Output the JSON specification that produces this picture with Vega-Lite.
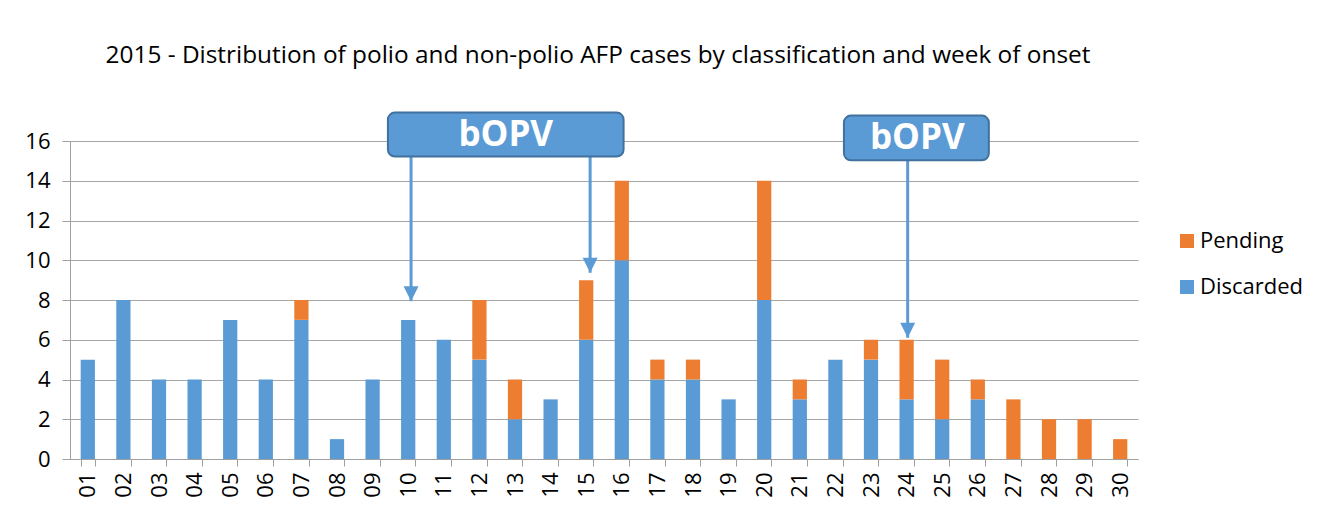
{
  "$schema": "https://vega.github.io/schema/vega-lite/v6.json",
  "width": 1068,
  "height": 318,
  "autosize": {"type": "none"},
  "padding": {"left": 70, "top": 141, "right": 190, "bottom": 52},
  "background": "white",
  "title": {
    "text": "2015 - Distribution of polio and non-polio AFP cases by classification and week of onset",
    "fontSize": 24.4,
    "fontWeight": "normal",
    "color": "#000000",
    "anchor": "middle",
    "frame": "group",
    "dx": -6,
    "offset": 43
  },
  "datasets": {
    "cases": [
      {"week": "01", "status": "Discarded", "count": 5},
      {"week": "02", "status": "Discarded", "count": 8},
      {"week": "03", "status": "Discarded", "count": 4},
      {"week": "04", "status": "Discarded", "count": 4},
      {"week": "05", "status": "Discarded", "count": 7},
      {"week": "06", "status": "Discarded", "count": 4},
      {"week": "07", "status": "Discarded", "count": 7},
      {"week": "07", "status": "Pending", "count": 1},
      {"week": "08", "status": "Discarded", "count": 1},
      {"week": "09", "status": "Discarded", "count": 4},
      {"week": "10", "status": "Discarded", "count": 7},
      {"week": "11", "status": "Discarded", "count": 6},
      {"week": "12", "status": "Discarded", "count": 5},
      {"week": "12", "status": "Pending", "count": 3},
      {"week": "13", "status": "Discarded", "count": 2},
      {"week": "13", "status": "Pending", "count": 2},
      {"week": "14", "status": "Discarded", "count": 3},
      {"week": "15", "status": "Discarded", "count": 6},
      {"week": "15", "status": "Pending", "count": 3},
      {"week": "16", "status": "Discarded", "count": 10},
      {"week": "16", "status": "Pending", "count": 4},
      {"week": "17", "status": "Discarded", "count": 4},
      {"week": "17", "status": "Pending", "count": 1},
      {"week": "18", "status": "Discarded", "count": 4},
      {"week": "18", "status": "Pending", "count": 1},
      {"week": "19", "status": "Discarded", "count": 3},
      {"week": "20", "status": "Discarded", "count": 8},
      {"week": "20", "status": "Pending", "count": 6},
      {"week": "21", "status": "Discarded", "count": 3},
      {"week": "21", "status": "Pending", "count": 1},
      {"week": "22", "status": "Discarded", "count": 5},
      {"week": "23", "status": "Discarded", "count": 5},
      {"week": "23", "status": "Pending", "count": 1},
      {"week": "24", "status": "Discarded", "count": 3},
      {"week": "24", "status": "Pending", "count": 3},
      {"week": "25", "status": "Discarded", "count": 2},
      {"week": "25", "status": "Pending", "count": 3},
      {"week": "26", "status": "Discarded", "count": 3},
      {"week": "26", "status": "Pending", "count": 1},
      {"week": "27", "status": "Pending", "count": 3},
      {"week": "28", "status": "Pending", "count": 2},
      {"week": "29", "status": "Pending", "count": 2},
      {"week": "30", "status": "Pending", "count": 1}
    ],
    "boxes": [
      {"label": "bOPV", "x1": 8.93, "x2": 15.55, "y1": 15.22, "y2": 17.43, "xc": 12.24, "yc": 16.32},
      {"label": "bOPV", "x1": 21.74, "x2": 25.81, "y1": 15.03, "y2": 17.28, "xc": 23.8, "yc": 16.15}
    ],
    "arrows": [
      {"x": 9.58, "top": 15.22, "tip": 7.94},
      {"x": 14.61, "top": 15.22, "tip": 9.37},
      {"x": 23.53, "top": 15.03, "tip": 6.1}
    ]
  },
  "layer": [
    {
      "data": {"name": "cases"},
      "mark": {"type": "bar"},
      "encoding": {
        "x": {
          "field": "week",
          "type": "nominal",
          "sort": "ascending",
          "scale": {"paddingInner": 0.6, "paddingOuter": 0.3},
          "axis": {
            "title": null,
            "labelAngle": 270,
            "labelFontSize": 22,
            "labelColor": "#000000",
            "labelPadding": 6,
            "labelOverlap": false,
            "tickBand": "extent",
            "tickSize": 7,
            "tickColor": "#A0A0A0",
            "domainColor": "#A0A0A0",
            "grid": false
          }
        },
        "y": {
          "aggregate": "sum",
          "field": "count",
          "type": "quantitative",
          "stack": "zero",
          "title": null,
          "scale": {"domain": [0, 16], "nice": false}
        },
        "color": {
          "field": "status",
          "type": "nominal",
          "scale": {"domain": ["Pending", "Discarded"], "range": ["#ED7D31", "#5B9BD5"]},
          "legend": {
            "title": null,
            "orient": "none",
            "legendX": 1106,
            "legendY": 89,
            "symbolType": "square",
            "symbolSize": 196,
            "symbolStrokeWidth": 0,
            "labelFontSize": 22,
            "labelColor": "#000000",
            "labelOffset": 2,
            "rowPadding": 24
          }
        },
        "order": {"field": "status", "sort": "ascending"}
      }
    },
    {
      "data": {"name": "arrows"},
      "mark": {"type": "rule", "color": "#5B9BD5", "strokeWidth": 3},
      "encoding": {
        "x": {"field": "x", "type": "quantitative", "scale": {"domain": [0, 30], "nice": false, "zero": false}, "axis": null},
        "y": {"field": "top", "type": "quantitative", "title": null, "scale": {"domain": [0, 16], "nice": false}},
        "y2": {"field": "tip"}
      }
    },
    {
      "data": {"name": "arrows"},
      "mark": {"type": "point", "shape": "M-1,-2L1,-2L0,0Z", "filled": true, "color": "#5B9BD5", "size": 225, "opacity": 1},
      "encoding": {
        "x": {"field": "x", "type": "quantitative", "scale": {"domain": [0, 30], "nice": false, "zero": false}, "axis": null},
        "y": {"field": "tip", "type": "quantitative", "title": null, "scale": {"domain": [0, 16], "nice": false}}
      }
    },
    {
      "data": {"name": "boxes"},
      "mark": {"type": "rect", "fill": "#5B9BD5", "stroke": "#41719C", "strokeWidth": 2, "cornerRadius": 7},
      "encoding": {
        "x": {"field": "x1", "type": "quantitative", "scale": {"domain": [0, 30], "nice": false, "zero": false}, "axis": null},
        "x2": {"field": "x2"},
        "y": {"field": "y1", "type": "quantitative", "title": null, "scale": {"domain": [0, 16], "nice": false}},
        "y2": {"field": "y2"}
      }
    },
    {
      "data": {"name": "boxes"},
      "mark": {"type": "text", "color": "#FFFFFF", "fontSize": 35, "fontWeight": "bold", "align": "center", "baseline": "middle"},
      "encoding": {
        "x": {"field": "xc", "type": "quantitative", "scale": {"domain": [0, 30], "nice": false, "zero": false}, "axis": null},
        "y": {"field": "yc", "type": "quantitative", "title": null, "scale": {"domain": [0, 16], "nice": false}},
        "text": {"field": "label"}
      }
    }
  ],
  "resolve": {"scale": {"x": "independent"}},
  "config": {
    "font": "Open Sans",
    "view": {"stroke": null},
    "axisY": {
      "title": null,
      "tickCount": 8,
      "labelFontSize": 22,
      "labelColor": "#000000",
      "labelPadding": 12,
      "labelOverlap": false,
      "labelFlush": false,
      "tickSize": 8,
      "tickColor": "#A0A0A0",
      "domain": true,
      "domainColor": "#A0A0A0",
      "grid": true,
      "gridColor": "#A6A6A6"
    }
  }
}
